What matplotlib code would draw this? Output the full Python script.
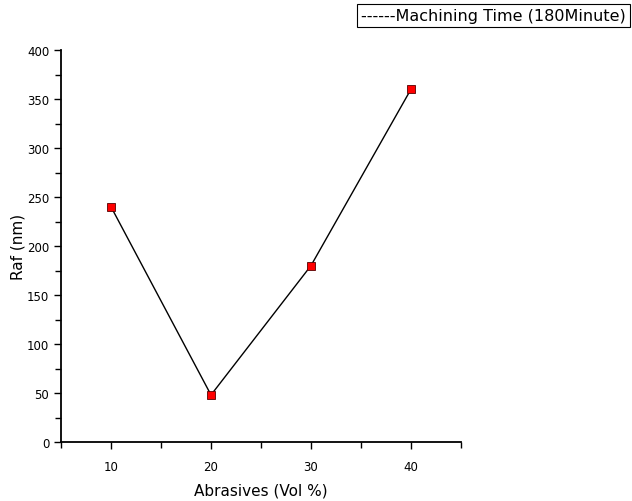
import matplotlib
matplotlib.use("Agg")
import matplotlib.pyplot as plt
from matplotlib.ticker import MultipleLocator

abrasives = [10, 20, 30, 40]
raf = [240, 48, 180, 360]
legend_text = "------Machining Time (180Minute)"

fig = plt.figure(figsize=(6.32, 5.02), dpi=100)
ax = fig.add_axes([61/632, 59/502, 400/632, 392/502])
ax.plot(abrasives, raf, color="black", lw=1.0, marker="s", ms=6,
        markerfacecolor="red", markeredgecolor="#550000", markeredgewidth=0.6)
ax.set_xlim(5, 45)
ax.set_ylim(0, 400)
ax.xaxis.set_major_locator(MultipleLocator(10))
ax.xaxis.set_minor_locator(MultipleLocator(5))
ax.yaxis.set_major_locator(MultipleLocator(50))
ax.yaxis.set_minor_locator(MultipleLocator(25))
for s in ["top", "right"]:
    ax.spines[s].set_visible(False)
for s in ["left", "bottom"]:
    ax.spines[s].set_linewidth(1.3)
ax.tick_params(which="major", direction="out", length=5, width=1, labelsize=8.5)
ax.tick_params(which="minor", direction="out", length=4, width=1)
ax.tick_params(axis="x", which="major", pad=8)

fig.text(261/632, 1 - 491/502, "Abrasives (Vol %)", ha="center", va="center", fontsize=11)
fig.text(18/632, 1 - 247/502, "Raf (nm)", ha="center", va="center", fontsize=11, rotation=90)

fig.text(0.99, 0.968, legend_text, ha="right", va="center", fontsize=11.5,
         bbox=dict(boxstyle="square,pad=0.25", facecolor="white", edgecolor="black", lw=0.8))

fig.savefig("out.png", dpi=100)
